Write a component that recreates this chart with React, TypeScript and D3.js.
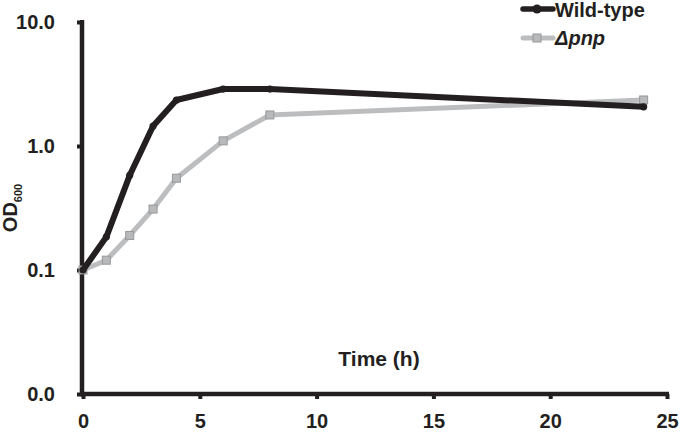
import React, { useRef, useEffect } from 'react';
import * as d3 from 'd3';

// Growth curve data (OD600 by hour)
const wildHours = [0, 1, 2, 3, 4, 6, 8, 24];
const wildOD = [0.1, 0.185, 0.58, 1.45, 2.35, 2.88, 2.88, 2.07];
const pnpHours = [0, 1, 2, 3, 4, 6, 8, 24];
const pnpOD = [0.1, 0.12, 0.19, 0.31, 0.55, 1.1, 1.78, 2.35];
const xTicks = [0, 5, 10, 15, 20, 25];
const yTicks = [0.01, 0.1, 1, 10];

const FONT = '"Liberation Sans", Arial, sans-serif';
const INK = '#231f20';
const GRAY = '#bcbdbf';

const App = () => {
  const svgRef = useRef<SVGSVGElement>(null);

  useEffect(() => {
    document.body.style.margin = '0';
    if (!svgRef.current) return;
    const svg = d3.select(svgRef.current);
    svg.selectAll('*').remove();

    const x = d3.scaleLinear().domain([0, 25]).range([83, 667]);
    const y = d3.scaleLog().domain([0.01, 10]).range([394, 22]);

    // y axis
    const yAxis = svg.append('g')
      .attr('transform', 'translate(82,0)')
      .call(d3.axisLeft(y).tickValues(yTicks).tickFormat(d3.format('.1f')).tickSize(5).tickSizeOuter(0));
    yAxis.select('.domain').attr('stroke', INK).attr('stroke-width', 4.5)
      .attr('d', 'M0,20V396');
    yAxis.selectAll('.tick line').attr('stroke', INK).attr('stroke-width', 4);
    yAxis.selectAll('.tick text')
      .attr('x', -27)
      .attr('font-family', FONT).attr('font-size', 20).attr('font-weight', 'bold')
      .attr('fill', INK);

    // x axis
    const xAxis = svg.append('g')
      .attr('transform', 'translate(0,394)')
      .call(d3.axisBottom(x).tickValues(xTicks).tickFormat(d3.format('d')).tickSize(5).tickSizeOuter(0));
    xAxis.select('.domain').attr('stroke', INK).attr('stroke-width', 4.5)
      .attr('d', `M80,0H${x(25) + 2}`);
    xAxis.selectAll('.tick line').attr('stroke', INK).attr('stroke-width', 4);
    xAxis.selectAll('.tick text')
      .attr('y', 20)
      .attr('font-family', FONT).attr('font-size', 20).attr('font-weight', 'bold')
      .attr('fill', INK);

    // axis titles
    svg.append('text')
      .attr('x', 379).attr('y', 366)
      .attr('text-anchor', 'middle')
      .attr('font-family', FONT).attr('font-size', 21).attr('font-weight', 'bold')
      .attr('fill', INK)
      .text('Time (h)');

    const yTitle = svg.append('text')
      .attr('transform', 'translate(17,208) rotate(-90)')
      .attr('text-anchor', 'middle')
      .attr('font-family', FONT).attr('font-weight', 'bold')
      .attr('fill', INK);
    yTitle.append('tspan').attr('font-size', 20).text('OD');
    yTitle.append('tspan').attr('font-size', 11).attr('dy', 5).text('600');

    const line = d3.line<[number, number]>()
      .x(d => x(d[0]))
      .y(d => y(d[1]));

    const wild: [number, number][] = wildHours.map((h, i) => [h, wildOD[i]]);
    const pnp: [number, number][] = pnpHours.map((h, i) => [h, pnpOD[i]]);

    // Δpnp series (gray, square markers)
    svg.append('path')
      .datum(pnp)
      .attr('d', line)
      .attr('fill', 'none')
      .attr('stroke', GRAY)
      .attr('stroke-width', 5)
      .attr('stroke-linejoin', 'round');
    svg.selectAll('.pnp-pt')
      .data(pnp)
      .enter().append('rect')
      .attr('class', 'pnp-pt')
      .attr('x', d => x(d[0]) - 4)
      .attr('y', d => y(d[1]) - 4)
      .attr('width', 8).attr('height', 8)
      .attr('fill', '#b8b9bb')
      .attr('stroke', '#98989a')
      .attr('stroke-width', 1);

    // Wild-type series (black, circle markers)
    svg.append('path')
      .datum(wild)
      .attr('d', line)
      .attr('fill', 'none')
      .attr('stroke', INK)
      .attr('stroke-width', 6)
      .attr('stroke-linejoin', 'round');
    svg.selectAll('.wild-pt')
      .data(wild)
      .enter().append('circle')
      .attr('class', 'wild-pt')
      .attr('cx', d => x(d[0]))
      .attr('cy', d => y(d[1]))
      .attr('r', 3.6)
      .attr('fill', INK);

    // legend
    const legend = svg.append('g');
    legend.append('line')
      .attr('x1', 523).attr('x2', 553).attr('y1', 9).attr('y2', 9)
      .attr('stroke', INK).attr('stroke-width', 5.5).attr('stroke-linecap', 'round');
    legend.append('circle').attr('cx', 537).attr('cy', 9).attr('r', 4.5).attr('fill', INK);
    legend.append('text')
      .attr('x', 555).attr('y', 17)
      .attr('font-family', FONT).attr('font-size', 20).attr('font-weight', 'bold')
      .attr('fill', INK)
      .text('Wild-type');

    legend.append('line')
      .attr('x1', 523).attr('x2', 553).attr('y1', 38).attr('y2', 38)
      .attr('stroke', GRAY).attr('stroke-width', 5).attr('stroke-linecap', 'round');
    legend.append('rect').attr('x', 533).attr('y', 34).attr('width', 8).attr('height', 8)
      .attr('fill', '#b8b9bb').attr('stroke', '#98989a').attr('stroke-width', 1);
    legend.append('text')
      .attr('x', 555).attr('y', 45)
      .attr('font-family', FONT).attr('font-size', 20).attr('font-weight', 'bold')
      .attr('font-style', 'italic')
      .attr('fill', INK)
      .text('Δpnp');
  }, []);

  return <svg ref={svgRef} width={680} height={433} style={{ display: 'block', background: '#fff' }} />;
};

export default App;
